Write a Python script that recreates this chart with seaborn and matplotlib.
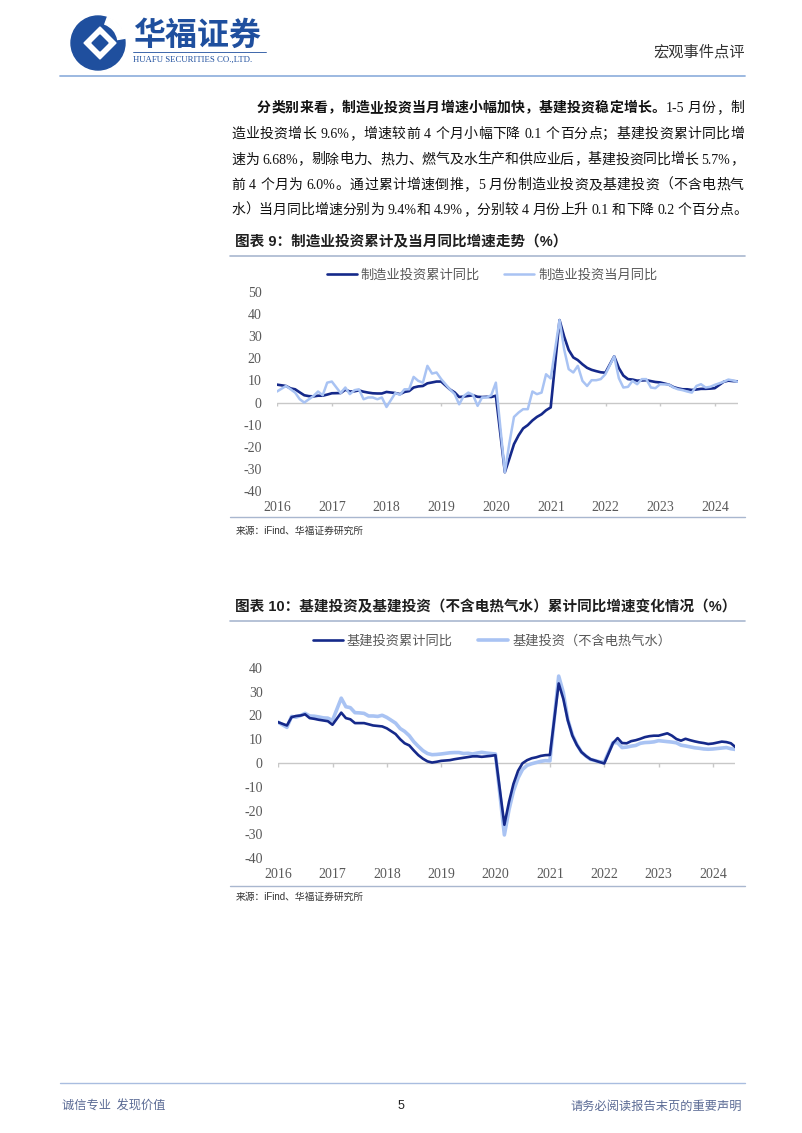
import re
import numpy as np
import pandas as pd
import matplotlib
matplotlib.use('Agg')
import matplotlib.pyplot as plt
from matplotlib.patches import Circle, Polygon, Wedge
from matplotlib.font_manager import FontProperties
import seaborn as sns

# ---------------- data ----------------
months = (['2015-12'] +
          [f'{y}-{m:02d}' for y in range(2016, 2024) for m in range(2, 13)] +
          [f'2024-{m:02d}' for m in range(2, 6)])

mfg_cum = [8.1,
           7.5, 6.4, 6.0, 4.6, 3.3, 2.9, 2.8, 3.1, 3.1, 3.6, 4.2,
           4.3, 5.8, 5.0, 5.1, 5.5, 4.9, 4.5, 4.2, 4.1, 4.1, 4.8,
           4.3, 3.8, 4.8, 5.2, 6.8, 7.3, 7.5, 8.7, 9.1, 9.5, 9.5,
           5.9, 4.6, 2.5, 2.7, 3.0, 3.3, 2.6, 2.5, 2.6, 2.5, 3.1,
           -31.5, -25.2, -18.8, -14.8, -11.7, -10.2, -8.1, -6.5, -5.3, -3.5, -2.2,
           37.3, 29.8, 23.8, 20.4, 19.2, 17.3, 15.7, 14.8, 14.2, 13.7, 13.5,
           20.9, 15.6, 12.2, 10.6, 10.4, 9.9, 10.0, 10.1, 9.7, 9.3, 9.1,
           8.1, 7.0, 6.4, 6.0, 6.0, 5.7, 5.9, 6.2, 6.2, 6.3, 6.5,
           9.4, 9.9, 9.7, 9.6]

mfg_mon = [5.0,
           7.5, 6.0, 4.5, 1.5, 0.0, 1.5, 3.0, 5.0, 3.3, 9.0, 9.5,
           4.3, 6.8, 3.8, 5.6, 6.0, 1.5, 2.3, 2.3, 1.5, 2.3, -2.0,
           4.3, 3.5, 6.0, 6.0, 11.6, 9.8, 9.0, 16.6, 13.1, 13.6, 10.6,
           5.9, 3.8, -0.8, 3.0, 4.5, 3.5, -1.5, 2.3, 2.3, 3.3, 9.0,
           -31.5, -18.0, -6.5, -4.5, -3.0, -3.0, 5.0, 3.8, 4.5, 12.8, 10.9,
           37.3, 24.0, 15.1, 13.6, 16.6, 9.8, 7.5, 10.1, 10.1, 10.6, 12.8,
           20.9, 11.0, 6.8, 7.1, 9.8, 8.3, 10.6, 10.6, 6.8, 6.5, 8.3,
           8.1, 6.8, 6.0, 5.6, 5.0, 4.5, 7.5, 8.3, 6.8, 7.1, 8.0,
           9.4, 10.4, 10.0, 9.4]

infra_all = [17.2,
             15.8, 19.3, 19.8, 20.0, 20.5, 18.9, 18.6, 18.2, 17.9, 17.6, 16.1,
             21.2, 18.9, 18.4, 16.8, 16.8, 16.8, 16.3, 15.8, 15.6, 15.4, 14.6,
             12.2, 10.0, 8.3, 7.4, 5.3, 3.3, 1.8, 0.7, 0.2, 0.5, 0.9,
             1.2, 1.6, 1.9, 2.2, 2.5, 2.8, 2.8, 2.6, 2.8, 3.0, 3.3,
             -26.0, -16.4, -8.8, -3.3, -0.1, 1.2, 2.0, 2.4, 3.0, 3.3, 3.4,
             33.5, 27.0, 18.0, 11.5, 7.6, 4.6, 2.9, 1.6, 1.0, 0.4, -0.2,
             8.4, 10.5, 8.4, 8.3, 9.2, 9.6, 10.2, 10.9, 11.3, 11.5, 11.5,
             12.5, 11.5, 10.1, 9.4, 10.2, 9.6, 9.1, 8.7, 8.4, 8.0, 8.2,
             9.0, 8.8, 8.3, 6.68]

infra_ex = [17.2,
            15.0, 19.6, 19.3, 20.0, 20.9, 19.8, 19.7, 19.4, 19.0, 18.9, 17.9,
            27.3, 23.7, 23.3, 21.2, 21.1, 20.9, 19.8, 19.8, 19.6, 20.1, 19.2,
            16.8, 14.5, 13.3, 11.5, 9.0, 7.0, 5.2, 4.0, 3.5, 3.6, 3.8,
            4.3, 4.4, 4.4, 4.0, 4.1, 3.8, 4.2, 4.5, 4.2, 4.0, 3.8,
            -30.3, -19.7, -11.8, -6.3, -2.7, -1.0, -0.3, 0.2, 0.7, 1.0, 0.9,
            36.6, 29.7, 18.4, 11.8, 7.8, 4.6, 2.9, 1.5, 1.0, 0.5, 0.4,
            8.6, 8.5, 6.5, 6.7, 7.1, 7.4, 8.3, 8.6, 8.7, 8.9, 9.4,
            9.0, 8.8, 8.5, 7.5, 7.2, 6.8, 6.4, 6.2, 5.9, 5.8, 5.9,
            6.3, 6.5, 6.0, 5.7]

year_labels = [str(y) for y in range(2016, 2025)]
y1_ticks = list(range(-40, 51, 10))
y2_ticks = list(range(-40, 41, 10))

s1_names = ['制造业投资累计同比', '制造业投资当月同比']
s2_names = ['基建投资累计同比', '基建投资（不含电热气水）']

title1 = '图表 9：制造业投资累计及当月同比增速走势（%）'
title2 = '图表 10：基建投资及基建投资（不含电热气水）累计同比增速变化情况（%）'
source_txt = '来源：iFind、华福证券研究所'

para_lines = [
    [('分类别来看，制造业投资当月增速小幅加快，基建投资稳定增长。', 'bold'), ('1-5 月份，制', 'normal')],
    [('造业投资增长 9.6%，增速较前 4 个月小幅下降 0.1 个百分点；基建投资累计同比增', 'normal')],
    [('速为 6.68%，剔除电力、热力、燃气及水生产和供应业后，基建投资同比增长 5.7%，', 'normal')],
    [('前 4 个月为 6.0%。通过累计增速倒推，5 月份制造业投资及基建投资（不含电热气', 'normal')],
    [('水）当月同比增速分别为 9.4%和 4.9%，分别较 4 月份上升 0.1 和下降 0.2 个百分点。', 'normal')],
]

# ---------------- style ----------------
sns.set_theme(style='white')
plt.rcParams['font.family'] = ['Liberation Serif', 'Noto Sans CJK SC', 'DejaVu Sans']
plt.rcParams['axes.unicode_minus'] = False

W, H = 802, 1133
DARK = '#15298a'
LIGHT = '#a9c3f3'
GRAY = '#595959'
LINEC = '#a9b7cf'
CJK = ['Noto Sans CJK SC', 'DejaVu Sans']
MIX_SERIF = ['Liberation Serif', 'Noto Sans CJK SC']
MIX_SANS = ['Liberation Sans', 'Noto Sans CJK SC']

dates = pd.to_datetime(months) + pd.offsets.MonthEnd(0)
tick_dates = pd.to_datetime([f'{y}-01-01' for y in year_labels])

df1 = pd.DataFrame({'date': dates, 'cum': mfg_cum, 'mon': mfg_mon})
df2 = pd.DataFrame({'date': dates, 'all': infra_all, 'ex': infra_ex})

fig = plt.figure(figsize=(W / 100, H / 100), dpi=100)
fig.patch.set_facecolor('white')
bg = fig.add_axes([0, 0, 1, 1], zorder=0)
bg.set_xlim(0, W)
bg.set_ylim(H, 0)
bg.axis('off')


def ax_rect(left, right, top, bottom):
    return [left / W, 1 - bottom / H, (right - left) / W, (bottom - top) / H]


def style_axis(ax, yticks):
    for s in ax.spines.values():
        s.set_visible(False)
    ax.set_facecolor('none')
    ax.set_ylim(yticks[0], yticks[-1])
    ax.set_yticks(yticks)
    ax.set_yticklabels([str(v) for v in yticks], family='Liberation Serif',
                       fontsize=10, color=GRAY)
    ax.set_xlim(dates[0], dates[-1])
    ax.set_xticks(tick_dates)
    ax.set_xticklabels(year_labels, family='Liberation Serif', fontsize=10, color=GRAY)
    ax.tick_params(axis='y', length=0, pad=11)
    ax.tick_params(axis='x', length=0, pad=7)
    ax.axhline(0, color='#c8c8c8', lw=1.0, zorder=1)
    ax.vlines(tick_dates, -1.6, 0, color='#c8c8c8', lw=1.0, zorder=1)
    ax.set_xlabel('')
    ax.set_ylabel('')
    ax.grid(False)


# ---------------- chart 1 ----------------
ax1 = fig.add_axes(ax_rect(277, 737.5, 292, 491), zorder=1)
sns.lineplot(data=df1, x='date', y='cum', ax=ax1, color=DARK, lw=1.9,
             label=s1_names[0], zorder=3)
sns.lineplot(data=df1, x='date', y='mon', ax=ax1, color=LIGHT, lw=1.8,
             label=s1_names[1], zorder=4)
style_axis(ax1, y1_ticks)
h1, l1 = ax1.get_legend_handles_labels()
ax1.get_legend().remove()
fig.legend(h1, l1, loc='center', bbox_to_anchor=(492 / W, 1 - 275 / H), ncol=2,
           frameon=False, prop=FontProperties(family=CJK, size=9.5),
           labelcolor=GRAY, handlelength=2.3, handletextpad=0.3, columnspacing=1.8)

# ---------------- chart 2 ----------------
ax2 = fig.add_axes(ax_rect(278, 735.5, 668, 858), zorder=1)
sns.lineplot(data=df2, x='date', y='ex', ax=ax2, color=LIGHT, lw=2.6,
             label=s2_names[1], zorder=3)
sns.lineplot(data=df2, x='date', y='all', ax=ax2, color=DARK, lw=1.9,
             label=s2_names[0], zorder=4)
style_axis(ax2, y2_ticks)
h2, l2 = ax2.get_legend_handles_labels()
ax2.get_legend().remove()
fig.legend([h2[1], h2[0]], [l2[1], l2[0]], loc='center',
           bbox_to_anchor=(492 / W, 1 - 641 / H), ncol=2,
           frameon=False, prop=FontProperties(family=CJK, size=9.5),
           labelcolor=GRAY, handlelength=2.3, handletextpad=0.3, columnspacing=1.9)

# ---------------- page decoration ----------------
BLUE = '#1f4f9e'
bg.add_patch(Circle((98, 43), 27, color=BLUE))
bg.add_patch(Wedge((98, 43), 28, 290, 350, width=8, color='white'))
bg.add_patch(Polygon([(100, 27), (116, 43), (100, 59), (84, 43)], closed=True, color='white'))
bg.add_patch(Polygon([(100, 35), (108, 43), (100, 51), (92, 43)], closed=True, color=BLUE))
bg.text(133, 36, '华福证券', fontsize=23, fontweight='bold', color=BLUE,
        family=CJK, va='center', ha='left')
bg.plot([133, 266], [52, 52], color=BLUE, lw=0.6)
bg.text(133, 59.5, 'HUAFU SECURITIES CO.,LTD.', fontsize=6.3, family='Liberation Serif',
        color=BLUE, va='center', ha='left')
bg.text(745, 52, '宏观事件点评', fontsize=11, family=CJK, color='#333333',
        ha='right', va='center')
bg.plot([60, 745], [76, 76], color='#94b3de', lw=1.3)

# paragraph with justification
renderer = fig.canvas.get_renderer()
PFS = 10
em = PFS * 100 / 72


def tok_width(tok, weight):
    if tok == ' ':
        return em * 0.25
    if ord(tok[0]) > 0x2E80:
        return em
    t = bg.text(0, 0, tok, fontsize=PFS, family=MIX_SERIF, fontweight=weight)
    w = t.get_window_extent(renderer).width
    t.remove()
    return w


def draw_line(segments, x0, x1, y, justify=True):
    toks = []
    for s, weight in segments:
        for tok in re.findall(r'[A-Za-z0-9.%\-]+| |.', s):
            toks.append((tok, weight))
    widths = [tok_width(t, w) for t, w in toks]
    gap = (x1 - x0 - sum(widths)) / (len(toks) - 1) if justify else 0.0
    x = x0
    for (t, w), wd in zip(toks, widths):
        if t != ' ':
            bg.text(x, y, t, fontsize=PFS, family=MIX_SERIF, fontweight=w,
                    color='#111111', ha='left', va='baseline')
        x += wd + gap


baselines = [112, 138, 163.5, 189, 214]
for i, (segs, yb) in enumerate(zip(para_lines, baselines)):
    x0 = 257 if i == 0 else 231
    draw_line(segs, x0, 744, yb, justify=(i < len(para_lines) - 1))

# chart titles and rules
bg.text(235, 242, title1, fontsize=10.5, fontweight='bold', family=MIX_SANS,
        color='#1f1f1f', va='center', ha='left')
bg.plot([230, 745], [256, 256], color=LINEC, lw=1.2)
bg.plot([230, 745], [517, 517], color=LINEC, lw=1.0)
bg.text(236, 531, source_txt, fontsize=7, family=MIX_SANS, color='#333333',
        va='center', ha='left')

bg.text(235, 607, title2, fontsize=10.5, fontweight='bold', family=MIX_SANS,
        color='#1f1f1f', va='center', ha='left')
bg.plot([230, 745], [621, 621], color=LINEC, lw=1.2)
bg.plot([230, 745], [886, 886], color=LINEC, lw=1.0)
bg.text(236, 897, source_txt, fontsize=7, family=MIX_SANS, color='#333333',
        va='center', ha='left')

# footer
bg.plot([60, 745], [1083, 1083], color='#a9bde0', lw=1.0)
bg.text(62, 1106, '诚信专业  发现价值', fontsize=8.8, family=CJK, color='#5b6b95',
        va='center', ha='left')
bg.text(401, 1106, '5', fontsize=9, family='Liberation Sans', color='#222222',
        va='center', ha='center')
bg.text(742, 1106, '请务必阅读报告末页的重要声明', fontsize=8.8, family=CJK,
        color='#5b6b95', va='center', ha='right')

fig.savefig('out.png', dpi=100, facecolor='white')
